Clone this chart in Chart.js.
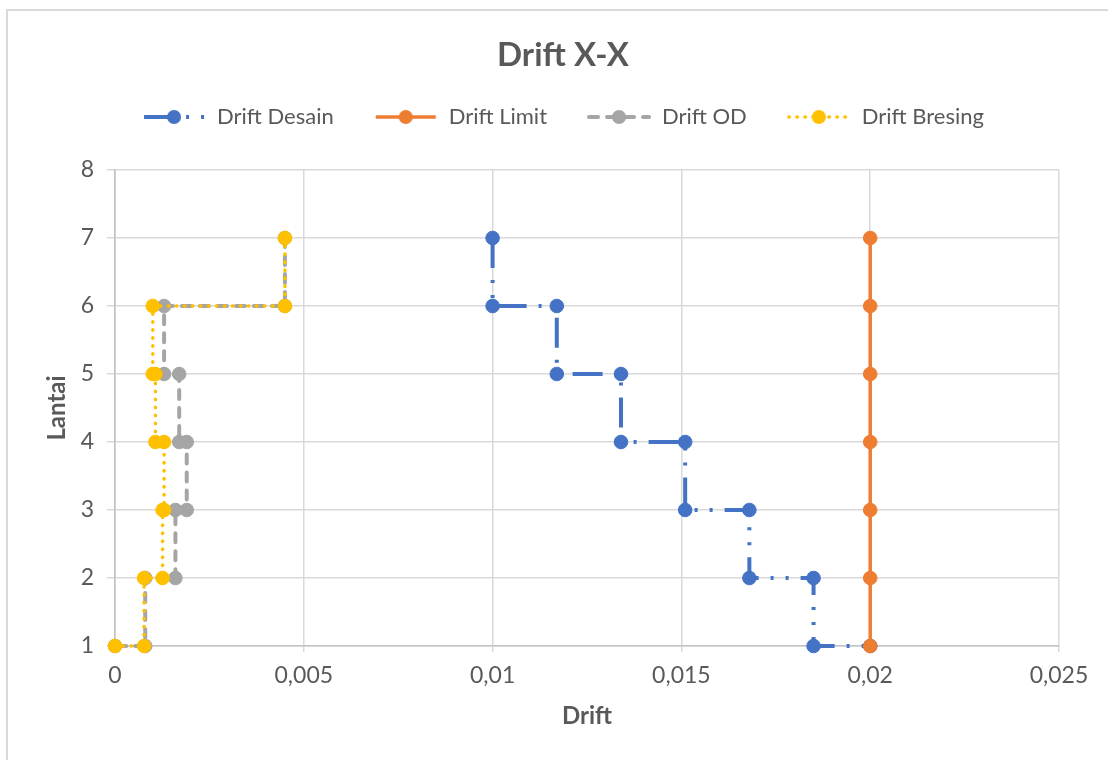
<!DOCTYPE html>
<html>
<head>
<meta charset="utf-8">
<script src="https://cdn.jsdelivr.net/npm/chart.js@4.4.1/dist/chart.umd.min.js"></script>
<style>
  html, body { margin: 0; padding: 0; background: #ffffff; overflow: hidden; width: 1108px; height: 760px; }
  #frame { position: absolute; left: 6px; top: 9px; width: 1200px; height: 800px; border: 2px solid #d9d9d9; box-sizing: border-box; }
  #wrap { position: absolute; left: 0; top: 0; width: 1126px; height: 760px; }
</style>
</head>
<body>
<div id="frame"></div>
<div id="wrap"><canvas id="c" width="1126" height="760"></canvas></div>
<script>
// Storey levels for the step-shaped drift profiles (top storey first)
const lantaiStep = [7, 6, 6, 5, 5, 4, 4, 3, 3, 2, 2, 1, 1];
const lantaiLimit = [1, 2, 3, 4, 5, 6, 7];

// Drift values per series
const driftDesain  = [0.01, 0.01, 0.0117, 0.0117, 0.0134, 0.0134, 0.0151, 0.0151, 0.0168, 0.0168, 0.0185, 0.0185, 0.02];
const driftLimit   = [0.02, 0.02, 0.02, 0.02, 0.02, 0.02, 0.02];
const driftOD      = [0.0045, 0.0045, 0.0013, 0.0013, 0.0017, 0.0017, 0.0019, 0.0019, 0.0016, 0.0016, 0.0008, 0.0008, 0];
const driftBresing = [0.0045, 0.0045, 0.001, 0.001, 0.00107, 0.00107, 0.0013, 0.0013, 0.00126, 0.00126, 0.00077, 0.00077, 0];

const seriesNames = ['Drift Desain', 'Drift Limit', 'Drift OD', 'Drift Bresing'];
const xTickLabels = ['0', '0,005', '0,01', '0,015', '0,02', '0,025'];
const yTickLabels = ['1', '2', '3', '4', '5', '6', '7', '8'];

const TEXT = '#595959';
const FONT = 'Lato';

const styles = [
  { color: '#4472C4', width: 4,   dash: [30, 12, 3, 12, 3, 12], cap: 'butt',  order: 3 },
  { color: '#ED7D31', width: 3.5, dash: [],                     cap: 'butt',  order: 2 },
  { color: '#A5A5A5', width: 4,   dash: [9, 9],                 cap: 'round', order: 1 },
  { color: '#FFC000', width: 3.5, dash: [0.5, 7.5],             cap: 'round', order: 0 }
];

const toPoints = (xs, ys) => xs.map((x, i) => ({ x: x, y: ys[i] }));
const seriesData = [
  toPoints(driftDesain, lantaiStep),
  toPoints(driftLimit, lantaiLimit),
  toPoints(driftOD, lantaiStep),
  toPoints(driftBresing, lantaiStep)
];

// Small line + marker swatch used as the legend symbol
function makeSwatch(st) {
  const cv = document.createElement('canvas');
  cv.width = 64; cv.height = 18;
  const g = cv.getContext('2d');
  g.strokeStyle = st.color;
  g.lineWidth = st.width;
  g.lineCap = st.cap;
  g.setLineDash(st.dash);
  g.beginPath(); g.moveTo(2, 9); g.lineTo(62, 9); g.stroke();
  g.setLineDash([]);
  g.fillStyle = st.color;
  g.beginPath(); g.arc(32, 9, 7, 0, Math.PI * 2); g.fill();
  return cv;
}
const swatches = styles.map(makeSwatch);

const datasets = seriesNames.map((name, i) => ({
  label: name,
  data: seriesData[i],
  showLine: true,
  borderColor: styles[i].color,
  backgroundColor: styles[i].color,
  borderWidth: styles[i].width,
  borderDash: styles[i].dash,
  borderCapStyle: styles[i].cap,
  pointRadius: 6.8,
  pointHoverRadius: 6.8,
  pointBackgroundColor: styles[i].color,
  pointBorderColor: styles[i].color,
  pointBorderWidth: 1,
  tension: 0,
  clip: false,
  order: styles[i].order
}));

new Chart(document.getElementById('c'), {
  type: 'scatter',
  data: { datasets: datasets },
  options: {
    responsive: false,
    animation: false,
    devicePixelRatio: 1,
    events: [],
    layout: { padding: { left: 67, right: 67, top: 0, bottom: 0 } },
    plugins: {
      tooltip: { enabled: false },
      title: {
        display: true,
        text: 'Drift X-X',
        color: TEXT,
        font: { family: FONT, size: 33, weight: 'bold', lineHeight: 1.2 },
        padding: { top: 35.2, bottom: -8.8 }
      },
      legend: {
        display: true,
        position: 'top',
        labels: {
          color: TEXT,
          font: { family: FONT, size: 22 },
          usePointStyle: true,
          pointStyleWidth: 64,
          padding: 40,
          generateLabels: () => seriesNames.map((name, i) => ({
            text: name,
            pointStyle: swatches[i],
            fillStyle: styles[i].color,
            strokeStyle: 'rgba(0,0,0,0)',
            lineWidth: 0,
            fontColor: TEXT,
            hidden: false,
            datasetIndex: i
          }))
        }
      },
      subtitle: {
        display: true,
        text: '',
        weight: 500,
        position: 'top',
        font: { family: FONT, size: 10, lineHeight: 1 },
        padding: { top: 22, bottom: 0 }
      }
    },
    scales: {
      x: {
        type: 'linear',
        min: 0,
        max: 0.025,
        afterFit: (s) => { s.height = 114; },
        ticks: {
          stepSize: 0.005,
          color: TEXT,
          font: { family: FONT, size: 23 },
          padding: 10,
          maxRotation: 0,
          callback: (v, i) => xTickLabels[i]
        },
        grid: { color: '#d9d9d9', lineWidth: 1.5, tickLength: 6, tickColor: '#d9d9d9' },
        border: { color: '#c4c4c4', width: 1.5 },
        title: {
          display: true,
          text: 'Drift',
          color: TEXT,
          font: { family: FONT, size: 24, weight: 'bold', lineHeight: 1.2 },
          padding: { top: 0, bottom: 29.6 }
        }
      },
      y: {
        type: 'linear',
        min: 1,
        max: 8,
        afterFit: (s) => { s.width = 48; },
        ticks: {
          stepSize: 1,
          color: TEXT,
          font: { family: FONT, size: 23 },
          padding: 13,
          callback: (v, i) => yTickLabels[i]
        },
        grid: { color: '#d9d9d9', lineWidth: 1.5, tickLength: 8, tickColor: '#d9d9d9' },
        border: { color: '#bfbfbf', width: 1.5 },
        title: {
          display: true,
          text: 'Lantai',
          color: TEXT,
          font: { family: FONT, size: 24, weight: 'bold', lineHeight: 1.2 },
          padding: { top: -23.9, bottom: 0 }
        }
      }
    }
  }
});
</script>
</body>
</html>
